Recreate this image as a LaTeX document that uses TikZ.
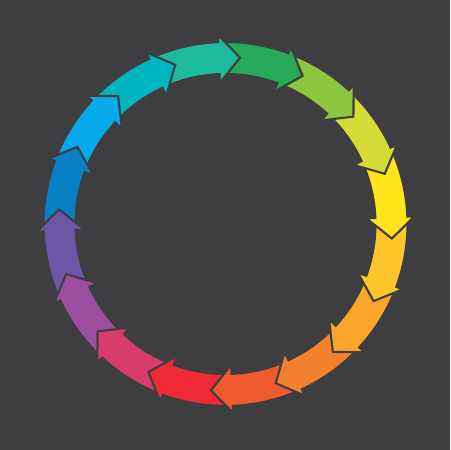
\documentclass[tikz,border=0pt]{standalone}
\usepackage{tikz}
\definecolor{bg}{HTML}{3E3D40}
\definecolor{c0}{HTML}{1DBB9B}
\definecolor{c1}{HTML}{27AA58}
\definecolor{c2}{HTML}{8DC63F}
\definecolor{c3}{HTML}{D5DB37}
\definecolor{c4}{HTML}{FFE51A}
\definecolor{c5}{HTML}{FDC62A}
\definecolor{c6}{HTML}{F9A62A}
\definecolor{c7}{HTML}{F4812D}
\definecolor{c8}{HTML}{F05A2F}
\definecolor{c9}{HTML}{EE2B34}
\definecolor{c10}{HTML}{D83C6C}
\definecolor{c11}{HTML}{9D4F9F}
\definecolor{c12}{HTML}{6C57A7}
\definecolor{c13}{HTML}{0A80C4}
\definecolor{c14}{HTML}{06A9E9}
\definecolor{c15}{HTML}{00B4C2}
\def\ro{182}
\def\ri{150}
\def\rbo{189}
\def\rbi{141}
\def\rt{167}
\newcommand\ringarrow[1]{%
  ({#1+29}:\ro) arc[start angle={#1+29}, end angle={#1+7.3}, radius=\ro]
  -- ({#1+7.3}:\rbo) -- (#1:\rt) -- ({#1+7.3}:\rbi)
  -- ({#1+7.3}:\ri) arc[start angle={#1+7.3}, end angle={#1+29}, radius=\ri] -- cycle}
\tikzset{ringseg/.style={draw=bg, line width=1.2pt, line join=miter, fill=#1}}
\begin{document}
\begin{tikzpicture}[x=0.02cm,y=0.02cm]
\fill[bg] (-225.5,-226) rectangle (224.5,224);
\useasboundingbox (-225.5,-226) rectangle (224.5,224);
\foreach \i in {15,14,...,0} {
  \pgfmathsetmacro\t{85-22.5*\i}
  \path[ringseg=c\i] \ringarrow{\t};
}
\begin{scope}
  \clip (0,0) -- (95:260) arc[start angle=95, end angle=122, radius=260] -- cycle;
  \pgfmathsetmacro\t{85-22.5*15}
  \path[ringseg=c15] \ringarrow{\t};
\end{scope}
\end{tikzpicture}
\end{document}
